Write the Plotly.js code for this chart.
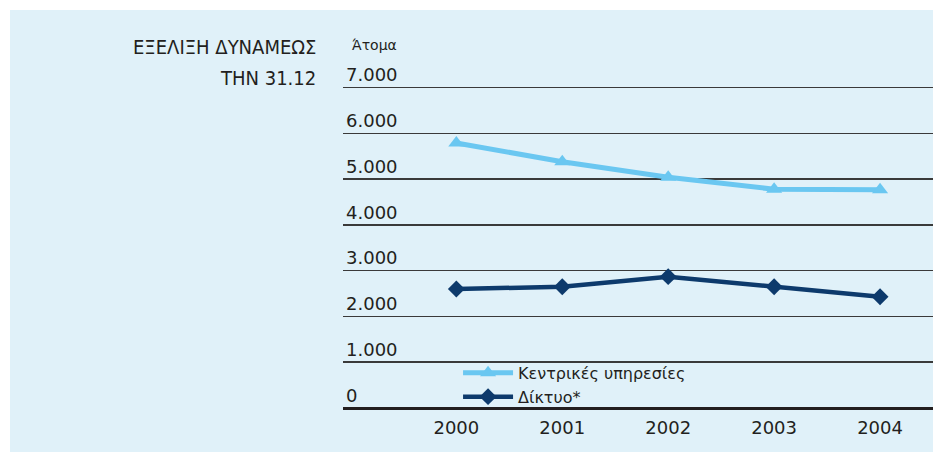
<!DOCTYPE html>
<html>
<head>
<meta charset="utf-8">
<script src="https://cdn.plot.ly/plotly-3.0.1.min.js"></script>
<style>
  html, body { margin: 0; padding: 0; background: #ffffff; }
  #chart { position: absolute; left: 10px; top: 10px; width: 923px; height: 442px; }
</style>
</head>
<body>
<div id="chart"></div>
<script>
const years = [2000, 2001, 2002, 2003, 2004];
const central = [5790, 5380, 5040, 4780, 4770];
const network = [2600, 2650, 2870, 2650, 2430];
const seriesNames = ['Κεντρικές υπηρεσίες', 'Δίκτυο*'];
const titleLines = ['ΕΞΕΛΙΞΗ ΔΥΝΑΜΕΩΣ', 'ΤΗΝ 31.12'];
const unitLabel = 'Άτομα';
const yTicks = [0, 1000, 2000, 3000, 4000, 5000, 6000, 7000];

const textColor = '#231f20';
const lightBlue = '#6ac7f1';
const navy = '#0d3a6c';
const mainFont = 'DejaVu Sans, Liberation Sans, Arial, sans-serif';

const traces = [
  {
    x: years, y: central, name: seriesNames[0], type: 'scatter', mode: 'lines+markers',
    line: { color: lightBlue, width: 5 },
    marker: { symbol: 'triangle-up', size: 14, color: lightBlue }
  },
  {
    x: years, y: network, name: seriesNames[1], type: 'scatter', mode: 'lines+markers',
    line: { color: navy, width: 4.5 },
    marker: { symbol: 'diamond', size: 13, color: navy }
  }
];

const layout = {
  width: 923, height: 442,
  margin: { l: 333, r: 0, t: 41.4, b: 44, pad: 0 },
  paper_bgcolor: '#e0f1f9',
  plot_bgcolor: 'rgba(0,0,0,0)',
  separators: ',.',
  font: { family: mainFont, color: textColor },
  showlegend: true,
  legend: {
    x: 0.195, y: 0.1458, xanchor: 'left', yanchor: 'top',
    bgcolor: 'rgba(0,0,0,0)', borderwidth: 0,
    font: { size: 16, color: textColor },
    itemwidth: 50,
    tracegroupgap: 0
  },
  xaxis: {
    range: [1998.93, 2004.5],
    tickvals: years,
    ticktext: years.map(String),
    showgrid: false, zeroline: false, showline: false,
    ticks: '',
    ticklabelstandoff: 7,
    tickfont: { size: 18, color: textColor },
    fixedrange: true
  },
  yaxis: {
    range: [0, 7800],
    tickvals: yTicks,
    tickformat: ',d',
    ticklabelposition: 'inside top',
    showgrid: true, gridcolor: '#3a3a3a', gridwidth: 1.5,
    zeroline: true, zerolinecolor: '#231f20', zerolinewidth: 3,
    showline: false, ticks: '',
    tickfont: { size: 18, color: textColor },
    fixedrange: true
  },
  annotations: [
    { text: titleLines[0], xref: 'paper', yref: 'paper', x: -0.0424, y: 1.0123,
      xanchor: 'right', yanchor: 'middle', showarrow: false,
      font: { family: 'DejaVu Sans Condensed, Liberation Sans Narrow, sans-serif', size: 20, color: textColor } },
    { text: titleLines[1], xref: 'paper', yref: 'paper', x: -0.0424, y: 0.9254,
      xanchor: 'right', yanchor: 'middle', showarrow: false,
      font: { family: 'DejaVu Sans Condensed, Liberation Sans Narrow, sans-serif', size: 20, color: textColor } },
    { text: unitLabel, xref: 'paper', yref: 'paper', x: 0.0119, y: 1.018,
      xanchor: 'left', yanchor: 'middle', showarrow: false,
      font: { size: 14, color: textColor } }
  ]
};

Plotly.newPlot('chart', traces, layout, { displayModeBar: false, staticPlot: true });
</script>
</body>
</html>
